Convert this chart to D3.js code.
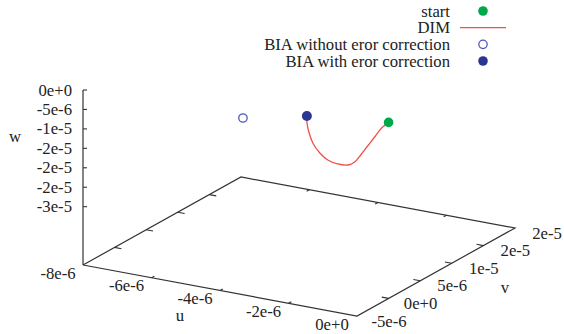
<!DOCTYPE html>
<html>
<head>
<meta charset="utf-8">
<script src="https://cdn.jsdelivr.net/npm/d3@7"></script>
<style>
  body { margin: 0; background: #fff; }
</style>
</head>
<body>
<script>
// tick values and labels (gnuplot %.0e style)
var uTicks = [-8e-6, -6e-6, -4e-6, -2e-6, 0];
var uLabels = ['-8e-6', '-6e-6', '-4e-6', '-2e-6', '0e+0'];
var vTicks = [-5e-6, 0, 5e-6, 1e-5, 1.5e-5, 2e-5];
var vLabels = ['-5e-6', '0e+0', '5e-6', '1e-5', '2e-5', '2e-5'];
var wTicks = [0, -5e-6, -1e-5, -1.5e-5, -2e-5, -2.5e-5, -3e-5];
var wLabels = ['0e+0', '-5e-6', '-1e-5', '-2e-5', '-2e-5', '-2e-5', '-3e-5'];

// trajectory (u, v, w)
var dimU = [0, -0.152e-6, -0.355e-6, -0.533e-6, -0.71e-6, -0.862e-6, -1.04e-6, -1.294e-6, -1.548e-6, -1.75e-6, -1.928e-6, -2.029e-6, -2.08e-6, -2.08e-6];
var dimV = [0, -0.122e-6, -0.283e-6, -0.425e-6, -0.567e-6, -0.688e-6, -0.83e-6, -1.033e-6, -1.235e-6, -1.397e-6, -1.539e-6, -1.62e-6, -1.66e-6, -1.66e-6];
var dimW = [0, -1.06e-6, -3.82e-6, -6.3e-6, -8.78e-6, -10.71e-6, -11.65e-6, -11.62e-6, -10.82e-6, -9.21e-6, -6.8e-6, -4.07e-6, -1.54e-6, 0];

var startPt = [0, 0, 0];
var biaNoCorr = [-3.4e-6, -4.62e-6, 0];
var biaCorr = [-2.08e-6, -1.66e-6, 0];

var width = 564, height = 334;
var svg = d3.select('body').append('svg')
    .attr('width', width).attr('height', height)
    .attr('font-family', '"Liberation Serif", "DejaVu Serif", serif')
    .attr('font-size', 16.7);

// view: base plane is a parallelogram, z sits at ticslevel 0.5 above it
var fu = d3.scaleLinear().domain([-8e-6, 0]).range([0, 1]);
var fv = d3.scaleLinear().domain([-5e-6, 2e-5]).range([0, 1]);
var fw = d3.scaleLinear().domain([-4.5e-5, 0]).range([0, 1]);
var O = [83, 265], U = [274, 51], V = [158, -88], H = 175;

function proj(u, v, w) {
    var a = fu(u), b = fv(v), c = fw(w);
    return [O[0] + a * U[0] + b * V[0], O[1] + a * U[1] + b * V[1] - c * H];
}

var axisCol = '#333', textCol = '#222';
var g = svg.append('g');
var wBase = fw.domain()[0];

function label(x, y, txt, anchor) {
    g.append('text').attr('x', x).attr('y', y)
        .attr('text-anchor', anchor || 'middle').attr('dominant-baseline', 'central')
        .attr('fill', textCol).text(txt);
}

// base frame
var corners = [[-8e-6, -5e-6], [0, -5e-6], [0, 2e-5], [-8e-6, 2e-5], [-8e-6, -5e-6]];
g.append('path')
    .attr('d', d3.line()(corners.map(function(c) { return proj(c[0], c[1], wBase); })))
    .attr('fill', 'none').attr('stroke', axisCol).attr('stroke-width', 1.2);

// vertical z axis
g.append('path')
    .attr('d', d3.line()([proj(-8e-6, -5e-6, wBase), proj(-8e-6, -5e-6, 0)]))
    .attr('stroke', axisCol).attr('stroke-width', 1.2);

function seg(p, q) {
    g.append('path').attr('d', d3.line()([p, q]))
        .attr('stroke', axisCol).attr('stroke-width', 1.1);
}

var tu = 0.2e-6, tv = 0.45e-6;
// u ticks: front edge (v min) and mirror on back edge (v max)
uTicks.forEach(function(t, i) {
    if (i > 0 && i < uTicks.length - 1) {
        seg(proj(t, -5e-6, wBase), proj(t, -5e-6 + tv, wBase));
        seg(proj(t, 2e-5, wBase), proj(t, 2e-5 - tv, wBase));
    }
    var p = proj(t, -5e-6, wBase);
    label(p[0] - 25, p[1] + 8, uLabels[i]);
});
// v ticks: front edge (u max) and mirror on left edge (u min)
vTicks.forEach(function(t, i) {
    if (i > 0 && i < vTicks.length - 1) {
        seg(proj(0, t, wBase), proj(-tu, t, wBase));
        seg(proj(-8e-6, t, wBase), proj(-8e-6 + tu, t, wBase));
    }
    var p = proj(0, t, wBase);
    label(p[0] + 32, p[1] + 5, vLabels[i]);
});
// w ticks
wTicks.forEach(function(t, i) {
    var p = proj(-8e-6, -5e-6, t);
    seg(p, [p[0] + 4, p[1]]);
    label(p[0] - 11, p[1], wLabels[i], 'end');
});

// axis titles
var pu = proj(-4e-6, -5e-6, wBase);
label(pu[0] - 40, pu[1] + 25, 'u');
var pv = proj(0, 7.5e-6, wBase);
label(pv[0] + 69, pv[1] + 15, 'v');
var pw = proj(-8e-6, -5e-6, -1.2e-5);
label(15, pw[1], 'w');

// data
var green = '#00a84a', red = '#f0504a', navy = '#2b3592', lightNavy = '#4a58c0';
var dimPts = dimU.map(function(u, i) { return proj(u, dimV[i], dimW[i]); });
g.append('path')
    .attr('d', d3.line().curve(d3.curveCatmullRom)(dimPts))
    .attr('fill', 'none').attr('stroke', red).attr('stroke-width', 1.3);

var ps = proj.apply(null, startPt);
g.append('circle').attr('cx', ps[0]).attr('cy', ps[1] - 1).attr('r', 4.8).attr('fill', green);
var pn = proj.apply(null, biaNoCorr);
g.append('circle').attr('cx', pn[0]).attr('cy', pn[1]).attr('r', 4.2)
    .attr('fill', 'none').attr('stroke', lightNavy).attr('stroke-width', 1.3);
var pc = proj.apply(null, biaCorr);
g.append('circle').attr('cx', pc[0]).attr('cy', pc[1]).attr('r', 5).attr('fill', navy);

// legend
var legend = [
    {name: 'start', type: 'dot', col: green},
    {name: 'DIM', type: 'line', col: red},
    {name: 'BIA without eror correction', type: 'open', col: lightNavy},
    {name: 'BIA with eror correction', type: 'dot', col: navy}
];
var legY = d3.scalePoint().domain(legend.map(function(d) { return d.name; })).range([11, 61]);
legend.forEach(function(d) {
    var y = legY(d.name);
    label(450, y, d.name, 'end');
    if (d.type === 'line') {
        g.append('path').attr('d', d3.line()([[460, y], [506, y]]))
            .attr('stroke', d.col).attr('stroke-width', 1.3);
    } else if (d.type === 'open') {
        g.append('circle').attr('cx', 483).attr('cy', y).attr('r', 4.2)
            .attr('fill', 'none').attr('stroke', d.col).attr('stroke-width', 1.3);
    } else {
        g.append('circle').attr('cx', 483).attr('cy', y).attr('r', 4.8).attr('fill', d.col);
    }
});
</script>
</body>
</html>
